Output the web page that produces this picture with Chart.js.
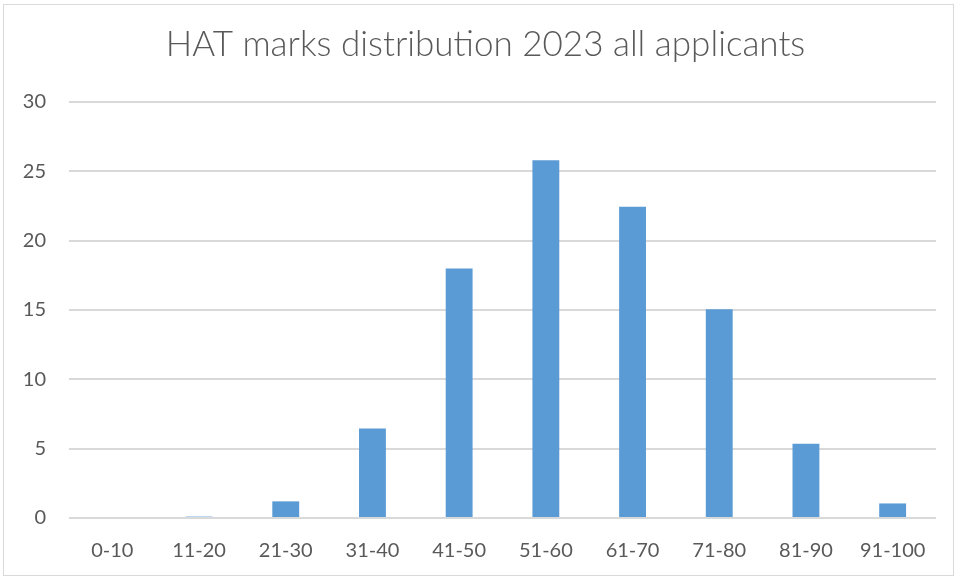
<!DOCTYPE html>
<html>
<head>
<meta charset="utf-8">
<script src="https://cdn.jsdelivr.net/npm/chart.js@4"></script>
<style>
  body { margin: 0; background: #fff; }
  #wrap { position: relative; width: 957px; height: 578px; }
  #frame { position: absolute; left: 3px; top: 4px; width: 949px; height: 570px; border: 1px solid #d9d9d9; }
  canvas { position: absolute; left: 0; top: 0; }
</style>
</head>
<body>
<div id="wrap">
  <div id="frame"></div>
  <canvas id="myChart" width="957" height="578"></canvas>
</div>
<script>
// mark bands and share of applicants
var bands = ["0-10", "11-20", "21-30", "31-40", "41-50", "51-60", "61-70", "71-80", "81-90", "91-100"];
var applicants = [0, 0.1, 1.2, 6.45, 18.0, 25.8, 22.45, 15.05, 5.35, 1.05];
var yTicks = [0, 5, 10, 15, 20, 25, 30];

var textColor = "#595959";

var ctx = document.getElementById("myChart").getContext("2d");
var chart = new Chart(ctx, {
  type: "bar",
  data: {
    labels: bands,
    datasets: [{
      label: "Applicants",
      data: applicants,
      backgroundColor: "#5b9bd5",
      borderWidth: 0,
      categoryPercentage: 1,
      barPercentage: 0.31
    }]
  },
  options: {
    responsive: false,
    animation: false,
    layout: { padding: { left: 14, right: 0, top: 0, bottom: 0 } },
    plugins: {
      legend: { display: false },
      tooltip: { enabled: false },
      title: {
        display: true,
        text: "HAT marks distribution 2023 all applicants",
        color: textColor,
        font: { family: "Lato", size: 35, weight: "300" },
        padding: { top: 24, bottom: 36 }
      }
    },
    scales: {
      x: {
        grid: { display: false, drawTicks: false },
        border: { display: false },
        ticks: { color: textColor, font: { family: "Lato", size: 20 }, padding: 21, maxRotation: 0 },
        afterFit: function (scale) { scale.height = 60; }
      },
      y: {
        min: 0,
        max: 30,
        afterBuildTicks: function (scale) {
          scale.ticks = yTicks.map(function (v) { return { value: v }; });
        },
        grid: { color: "#d9d9d9", lineWidth: 2, drawTicks: false },
        border: { display: false },
        ticks: { color: textColor, font: { family: "Lato", size: 20 }, padding: 23 },
        afterFit: function (scale) { scale.width = 55; }
      },
      // empty right margin so the title centres over the whole frame
      yRight: {
        position: "right",
        min: 0,
        max: 30,
        grid: { display: false, drawTicks: false },
        border: { display: false },
        ticks: { display: false },
        afterFit: function (scale) { scale.width = 21; }
      }
    }
  }
});
</script>
</body>
</html>
